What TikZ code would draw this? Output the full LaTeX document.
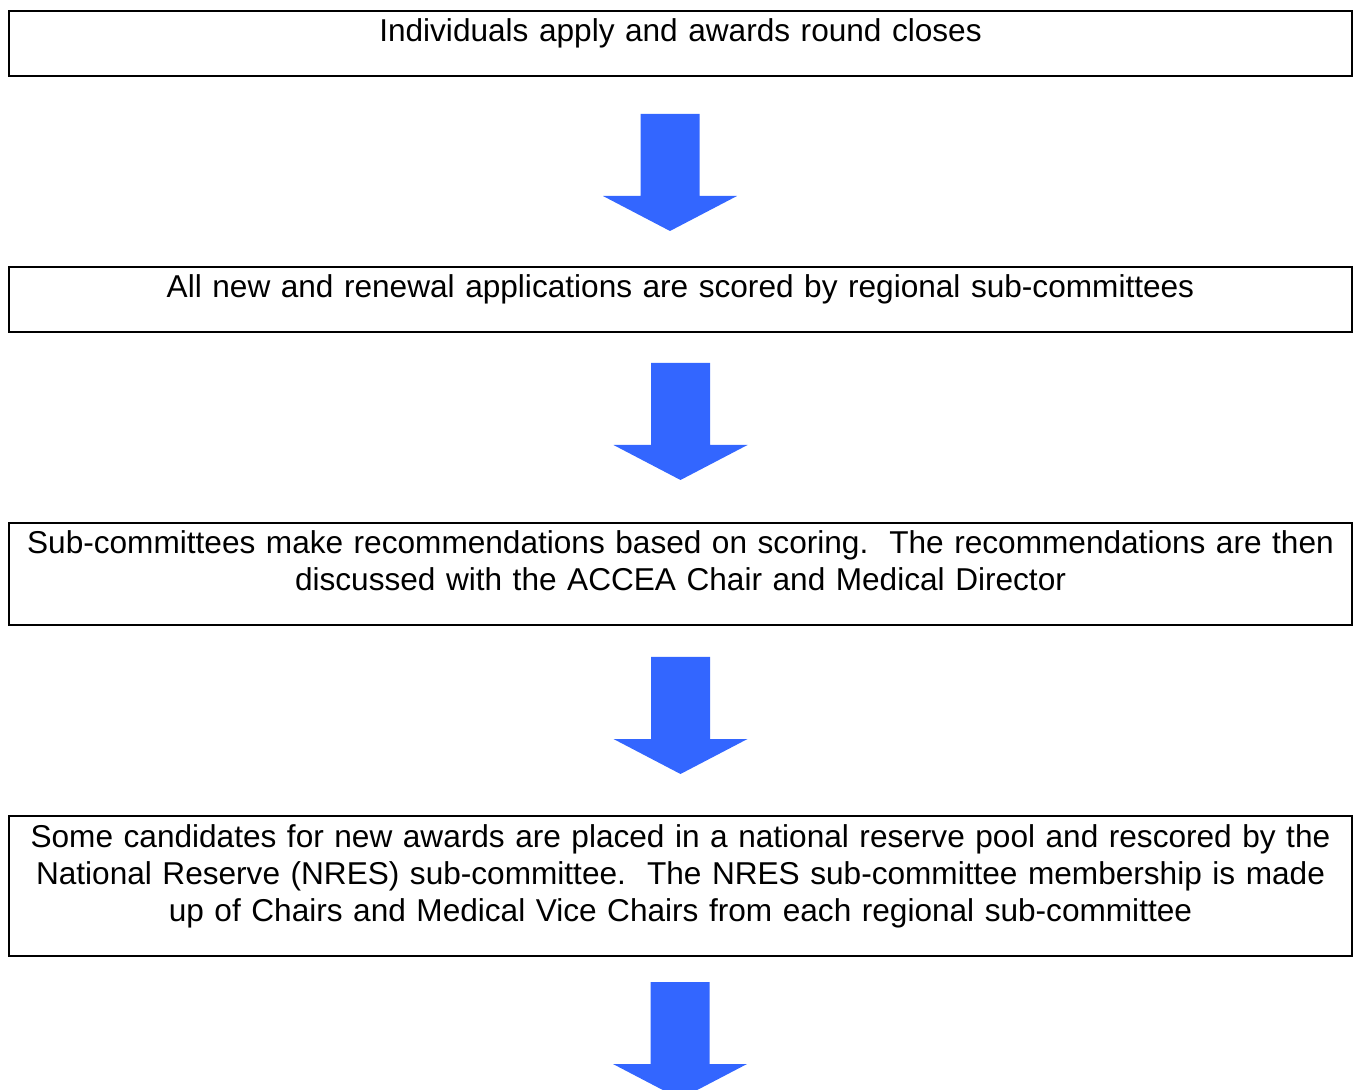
\documentclass[tikz,border=0pt]{standalone}
\usepackage{fontspec}
\setmainfont{Liberation Sans}
\usetikzlibrary{positioning}
\definecolor{arrowblue}{RGB}{51,102,255}
\tikzset{
  stepbox/.style={draw, line width=1pt, minimum width=671.5pt, inner sep=0pt},
  steptext/.style={anchor=base, text width=670pt, align=center, inner sep=0pt,
    font=\fontsize{15.8}{18.5}\selectfont\frenchspacing},
  blockarrow/.style={fill=arrowblue, draw=none}
}
\begin{document}
\begin{tikzpicture}[x=0.5pt,y=-0.5pt]
 \useasboundingbox (0,0) rectangle (1355,1090);
 \clip (0,0) rectangle (1355,1090);
 %
 \node[stepbox, minimum height=32.5pt] (apply) at (680.5,43.5) {};
 \node[steptext] (applytext) at ([yshift=-16pt]apply.north) {Individuals apply and awards round closes};
 %
 \node[stepbox, minimum height=32.5pt] (score) at (680.5,299.5) {};
 \node[steptext] (scoretext) at ([yshift=-16pt]score.north) {All new and renewal applications are scored by regional sub-committees};
 %
 \node[stepbox, minimum height=51pt] (recommend) at (680.5,574) {};
 \node[steptext] (recommendtext) at ([yshift=-16pt]recommend.north)
   {Sub-committees make recommendations based on scoring.\ \ The recommendations are then\\
    discussed with the ACCEA Chair and Medical Director};
 %
 \node[stepbox, minimum height=70pt] (reserve) at (680.5,886) {};
 \node[steptext] (reservetext) at ([yshift=-16pt]reserve.north)
   {Some candidates for new awards are placed in a national reserve pool and rescored by the\\
    National Reserve (NRES) sub-committee.\ \ The NRES sub-committee membership is made\\
    up of Chairs and Medical Vice Chairs from each regional sub-committee};
 %
 \foreach \x/\y in {670/114,680.5/363,680.5/657,680/982}
   \fill[blockarrow] (\x-29.5,\y) -- ++(59,0) -- ++(0,82) -- ++(37.5,0) -- (\x,\y+117)
     -- (\x-67,\y+82) -- ++(37.5,0) -- cycle;
\end{tikzpicture}
\end{document}
